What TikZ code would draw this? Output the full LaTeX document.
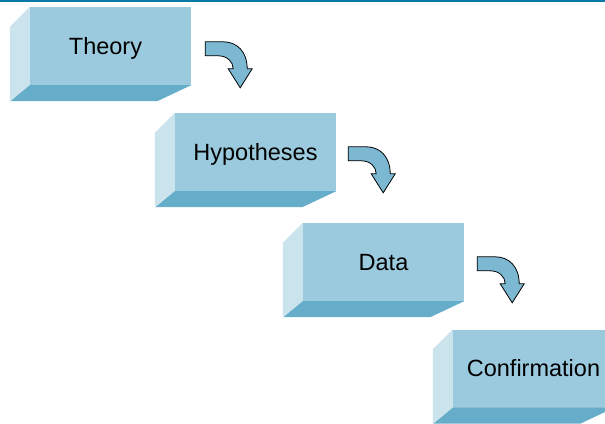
\documentclass[tikz,border=0pt]{standalone}
\usepackage{fontspec}
\setmainfont{Liberation Sans}
\usepackage{tikz}
\usetikzlibrary{calc}

\definecolor{frontblue}{HTML}{9BCADE}
\definecolor{sideblue}{HTML}{CBE3ED}
\definecolor{baseblue}{HTML}{66ADCA}
\definecolor{arrowblue}{HTML}{7CB8D2}
\definecolor{ruleblue}{HTML}{0A78A8}

\tikzset{
  front/.style={rectangle, fill=frontblue, inner sep=0pt, minimum width=161pt, minimum height=78pt,
    text height=16.8pt, text depth=0pt, font=\fontsize{23.5}{28}\selectfont},
  side/.style={fill=sideblue},
  base/.style={fill=baseblue},
  bentarrow/.pic={
    \draw[fill=arrowblue, line width=0.8pt, line join=miter]
      (0,0) -- (18,0) .. controls (32,0) and (42,10) .. (42,27) -- (47,27) -- (35,46)
      -- (23,27) -- (28,27) .. controls (28,20) and (22,14) .. (13,14) -- (0,14) -- cycle;
  }
}

\begin{document}
\begin{tikzpicture}[x=1pt, y=-1pt]
  \useasboundingbox (0,0) rectangle (605,423);
  \draw[ruleblue, line width=1.6pt] (0,0.8) -- (605,0.8);

  \node[front] (theory)  at (110.5,46)  {Theory\hspace*{10pt}};
  \node[front] (hypo)    at (255.5,152) {Hypotheses};
  \node[front] (data)    at (383.5,262) {Data};
  \node[front] (confirm) at (533.5,368.5) {Confirmation};

  % side and bottom faces
  \fill[side] (theory.north west) -- ++(-20,20) -- ++(0,74) -- (theory.south west) -- cycle;
  \fill[base] (theory.south west) -- (theory.south east) -- ++(-34,16) -- ++(-147,0) -- cycle;
  \fill[side] (hypo.north west) -- ++(-20,20) -- ++(0,74) -- (hypo.south west) -- cycle;
  \fill[base] (hypo.south west) -- (hypo.south east) -- ++(-34,16) -- ++(-147,0) -- cycle;
  \fill[side] (data.north west) -- ++(-20,20) -- ++(0,74) -- (data.south west) -- cycle;
  \fill[base] (data.south west) -- (data.south east) -- ++(-34,16) -- ++(-147,0) -- cycle;
  \fill[side] (confirm.north west) -- ++(-20,20) -- ++(0,74) -- (confirm.south west) -- cycle;
  \fill[base] (confirm.south west) -- (confirm.south east) -- ++(-34,16) -- ++(-147,0) -- cycle;

  \path ($(theory.north east)+(14,35)$) pic {bentarrow};
  \path ($(hypo.north east)+(12,34)$) pic {bentarrow};
  \path ($(data.north east)+(13,34)$) pic {bentarrow};
\end{tikzpicture}
\end{document}
